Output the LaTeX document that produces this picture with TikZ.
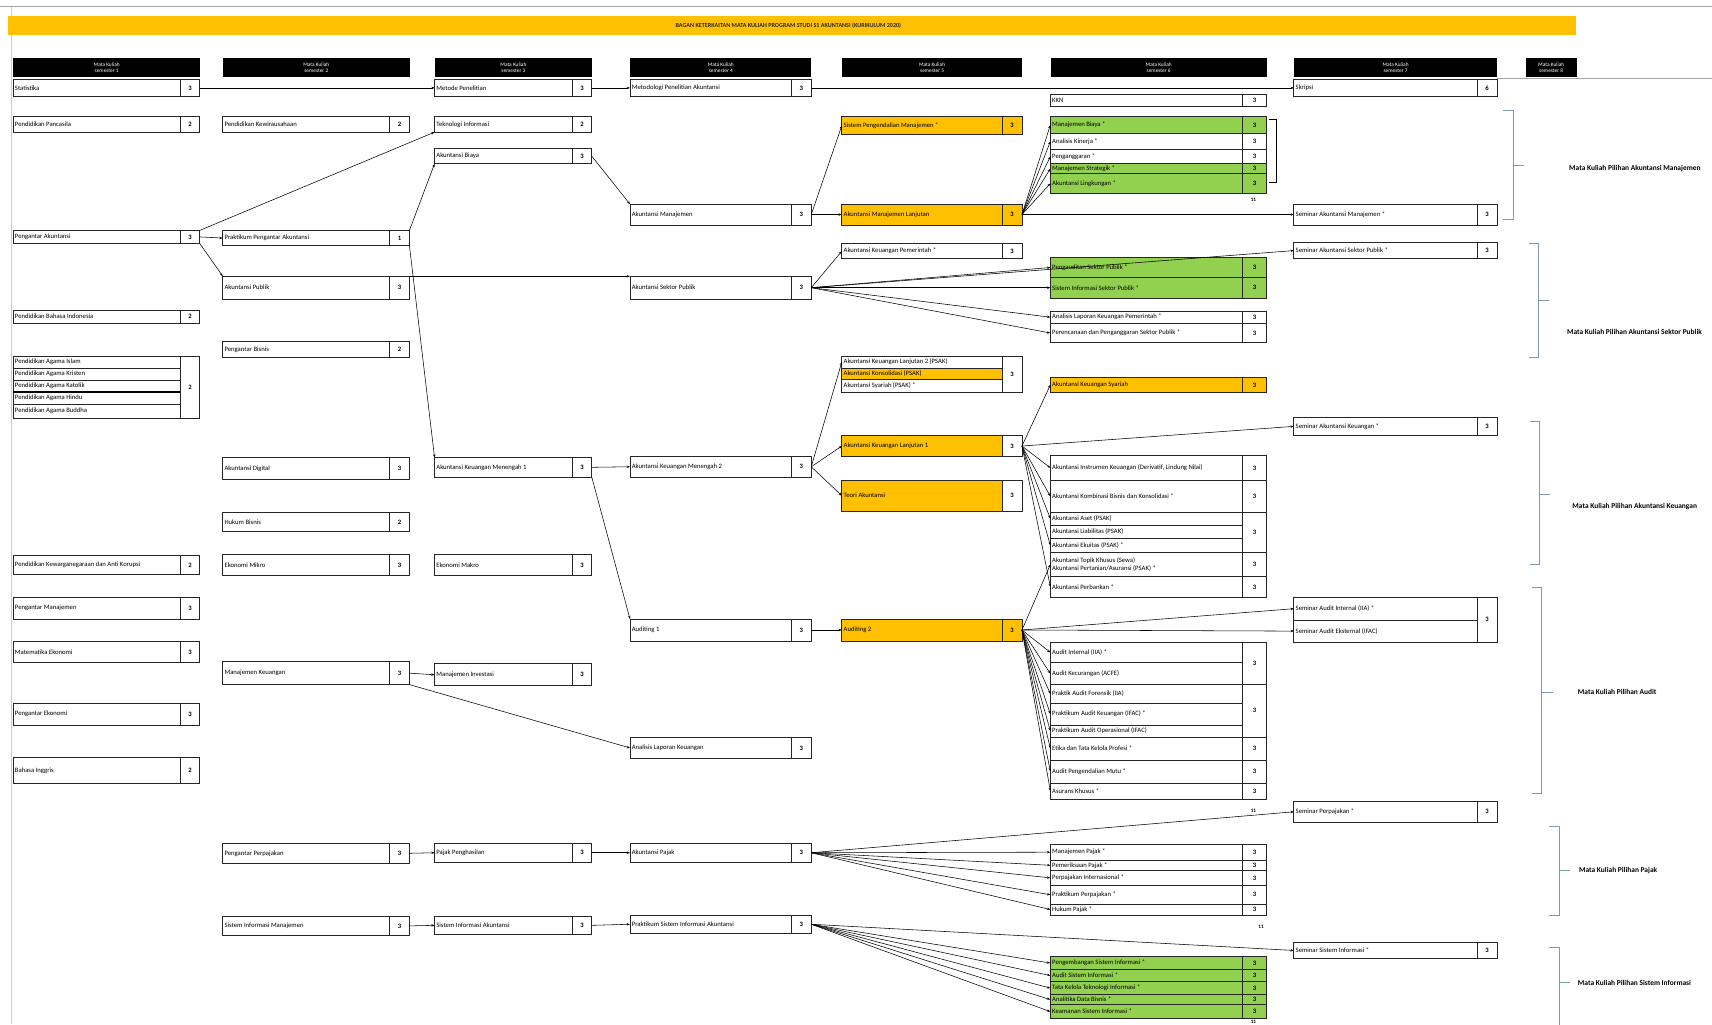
\documentclass[tikz,border=0pt]{standalone}
\usepackage{fontspec}
\setmainfont{Carlito}
\usetikzlibrary{arrows.meta}
\definecolor{mkyel}{HTML}{FFC000}
\definecolor{mkgrn}{HTML}{92D050}
\definecolor{bracecol}{HTML}{8497B0}
\newcommand{\mkfont}{\fontsize{6.1}{6.6}\selectfont}
\def\skw{18}
% a text cell and a credit cell
\newcommand{\mkrow}[7][white]{%
  \node[cellbox, fill=#1, minimum width=#5pt, minimum height=#6pt] (#2) at (#3,#4) {};%
  \node[celltext] at (#2.west) {#7};%
}
\newcommand{\mksks}[7][white]{%
  \node[cellbox, fill=#1, minimum width=#5pt, minimum height=#6pt, font=\mkfont\bfseries] (#2) at (#3,#4) {#7};%
}
% full course box: name, x, y, width, height, title, credits
\newcommand{\course}[8][white]{%
  \pgfmathsetmacro{\mkw}{#5-\skw}%
  \pgfmathsetmacro{\mkx}{#3+#5-\skw}%
  \mkrow[#1]{#2}{#3}{#4}{\mkw}{#6}{#7}%
  \mksks[#1]{#2n}{\mkx}{#4}{\skw}{#6}{#8}%
}

\begin{document}
\begin{tikzpicture}[
    x=1pt, y=-1pt,
    cellbox/.style={draw=black!85, line width=0.65pt, anchor=north west,
                    inner sep=0pt, outer sep=0pt},
    celltext/.style={anchor=west, xshift=1.5pt, inner sep=0pt, font=\mkfont, align=left},
    head/.style={fill=black, text=white, anchor=north west, inner sep=0pt,
                 minimum height=17pt, align=center, font=\fontsize{4.9}{5.4}\selectfont},
    link/.style={-{Stealth[length=3pt,width=2.2pt]}, line width=0.5pt},
    brace/.style={draw=bracecol, line width=0.6pt},
    sidelab/.style={anchor=west, inner sep=0pt, font=\fontsize{6.8}{7.2}\selectfont\bfseries},
    sumlab/.style={inner sep=0pt, font=\fontsize{4.8}{5}\selectfont\bfseries},
]
\useasboundingbox (0,0) rectangle (1568,938);
% sheet lines and title bar
\draw[black!35, line width=0.8pt] (0,6) -- (1568,6);
\draw[black!20, line width=0.6pt] (10,6) -- (10,938);
\draw[black!35, line width=0.5pt] (1371,72) -- (1568,72);
\fill[mkyel] (7,15) rectangle (1443,32);
\node[font=\fontsize{5.6}{6}\selectfont\bfseries, text=black!85] (title) at (722,23.5)
  {BAGAN KETERKAITAN MATA KULIAH PROGRAM STUDI S1 AKUNTANSI (KURIKULUM 2020)};

% semester headers
\foreach \i/\x/\w in {1/12/171, 2/204/171, 3/398/144, 4/577/166,
                      5/771/165, 6/962/198, 7/1185/186, 8/1397/47} {
  \node[head, minimum width=\w pt] (h\i) at (\x,53) {Mata Kuliah\\semester \i};
}

% semester 1
\course{c1a}{12}{73}{171}{15}{Statistika}{3}
\course{c1b}{12}{107}{171}{14}{Pendidikan Pancasila}{2}
\course{c1c}{12}{211}{171}{12}{Pengantar Akuntansi}{3}
\course{c1d}{12}{284}{171}{12}{Pendidikan Bahasa Indonesia}{2}
\foreach \r/\y/\h/\t in {1/326/11/Pendidikan Agama Islam, 2/337/11/Pendidikan Agama Kristen,
    3/348/11/Pendidikan Agama Katolik, 4/359/11/Pendidikan Agama Hindu, 5/370/13/Pendidikan Agama Buddha} {
  \mkrow{c1e\r}{12}{\y}{153}{\h}{\t}
}
\mksks{c1en}{165}{326}{18}{57}{2}
\draw[line width=1.1pt] (c1e3.south west) -- (c1e3.south east);
\course{c1f}{12}{509}{171}{17}{Pendidikan Kewarganegaraan dan Anti Korupsi}{2}
\course{c1g}{12}{547}{171}{20}{Pengantar Manajemen}{3}
\course{c1h}{12}{587}{171}{20}{Matematika Ekonomi}{3}
\course{c1i}{12}{644}{171}{20}{Pengantar Ekonomi}{3}
\course{c1j}{12}{694}{171}{23}{Bahasa Inggris}{2}

% semester 2
\course{c2a}{204}{107}{171}{14}{Pendidikan Kewirausahaan}{2}
\course{c2b}{204}{211}{171}{14}{Praktikum Pengantar Akuntansi}{1}
\course{c2c}{204}{253}{171}{21}{Akuntansi Publik}{3}
\course{c2d}{204}{313}{171}{14}{Pengantar Bisnis}{2}
\course{c2e}{204}{419}{171}{20}{Akuntansi Digital}{3}
\course{c2f}{204}{469}{171}{18}{Hukum Bisnis}{2}
\course{c2g}{204}{508}{171}{19}{Ekonomi Mikro}{3}
\course{c2h}{204}{606}{171}{21}{Manajemen Keuangan}{3}
\course{c2i}{204}{772}{171}{19}{Pengantar Perpajakan}{3}
\course{c2j}{204}{839}{171}{18}{Sistem Informasi Manajemen}{3}

% semester 3
\course{c3a}{398}{73}{144}{15}{Metode Penelitian}{3}
\course{c3b}{398}{107}{144}{14}{Teknologi Informasi}{2}
\course{c3c}{398}{136}{144}{14}{Akuntansi Biaya}{3}
\course{c3d}{398}{419}{144}{18}{Akuntansi Keuangan Menengah 1}{3}
\course{c3e}{398}{508}{144}{19}{Ekonomi Makro}{3}
\course{c3f}{398}{608}{144}{20}{Manajemen Investasi}{3}
\course{c3g}{398}{772}{144}{18}{Pajak Penghasilan}{3}
\course{c3h}{398}{839}{144}{17}{Sistem Informasi Akuntansi}{3}

% semester 4
\course{c4a}{577}{73}{166}{15}{Metodologi Penelitian Akuntansi}{3}
\course{c4b}{577}{187}{166}{19}{Akuntansi Manajemen}{3}
\course{c4c}{577}{253}{166}{21}{Akuntansi Sektor Publik}{3}
\course{c4d}{577}{418}{166}{19}{Akuntansi Keuangan Menengah 2}{3}
\course{c4e}{577}{567}{166}{20}{Auditing 1}{3}
\course{c4f}{577}{675}{166}{20}{Analisis Laporan Keuangan}{3}
\course{c4g}{577}{772}{166}{18}{Akuntansi Pajak}{3}
\course{c4h}{577}{838}{166}{17}{Praktikum Sistem Informasi Akuntansi}{3}

% semester 5
\course[mkyel]{c5a}{771}{107}{165}{16}{Sistem Pengendalian Manajemen *}{3}
\course[mkyel]{c5b}{771}{187}{165}{19}{Akuntansi Manajemen Lanjutan}{3}
\course{c5c}{771}{223}{165}{14}{Akuntansi Keuangan Pemerintah *}{3}
\mkrow{c5d1}{771}{326}{147}{11}{Akuntansi Keuangan Lanjutan 2 (PSAK)}
\mkrow[mkyel]{c5d2}{771}{337}{147}{10}{Akuntansi Konsolidasi (PSAK)}
\mkrow{c5d3}{771}{347}{147}{12}{Akuntansi Syariah (PSAK) *}
\mksks{c5dn}{918}{326}{18}{33}{3}
\mkrow[mkyel]{c5e}{771}{399}{147}{19}{Akuntansi Keuangan Lanjutan 1}
\mksks{c5en}{918}{399}{18}{19}{3}
\mkrow[mkyel]{c5f}{771}{440}{147}{28}{Teori Akuntansi}
\mksks{c5fn}{918}{440}{18}{28}{3}
\course[mkyel]{c5g}{771}{567}{165}{20}{Auditing 2}{3}

% semester 6
\def\skw{22}
\course{c6a}{962}{86}{198}{11}{KKN}{3}
\course[mkgrn]{c6b1}{962}{107}{198}{15}{Manajemen Biaya *}{3}
\course{c6b2}{962}{122}{198}{15}{Analisis Kinerja *}{3}
\course{c6b3}{962}{137}{198}{13}{Penganggaran *}{3}
\course[mkgrn]{c6b4}{962}{150}{198}{9}{Manajemen Strategik *}{3}
\course[mkgrn]{c6b5}{962}{159}{198}{18}{Akuntansi Lingkungan *}{3}
\draw[line width=0.6pt] (1162,109) -- (1169,109) -- (1169,167) -- (1162,167);
\node[sumlab] (s1) at (1148,183) {11};
\course[mkgrn]{c6c1}{962}{236}{198}{18}{Pengauditan Sektor Publik *}{3}
\course[mkgrn]{c6c2}{962}{254}{198}{19}{Sistem Informasi Sektor Publik *}{3}
\course{c6d1}{962}{285}{198}{11}{Analisis Laporan Keuangan Pemerintah *}{3}
\course{c6d2}{962}{296}{198}{18}{Perencanaan dan Penganggaran Sektor Publik *}{3}
\course[mkyel]{c6e}{962}{346}{198}{13}{Akuntansi Keuangan Syariah}{3}
\course{c6f1}{962}{417}{198}{23}{Akuntansi Instrumen Keuangan (Derivatif, Lindung Nilai)}{3}
\course{c6f2}{962}{440}{198}{29}{Akuntansi Kombinasi Bisnis dan Konsolidasi *}{3}
\mkrow{c6f3a}{962}{469}{176}{12}{Akuntansi Aset (PSAK)}
\mkrow{c6f3b}{962}{481}{176}{12}{Akuntansi Liabilitas (PSAK)}
\mkrow{c6f3c}{962}{493}{176}{13}{Akuntansi Ekuitas (PSAK) *}
\mksks{c6f3n}{1138}{469}{22}{37}{3}
\course{c6f4}{962}{506}{198}{22}{Akuntansi Topik Khusus (Sewa)\\Akuntansi Pertanian/Asuransi (PSAK) *}{3}
\course{c6f5}{962}{528}{198}{19}{Akuntansi Perbankan *}{3}
\foreach \r/\y/\h/\t in {1/588/19/Audit Internal (IIA) *, 2/607/20/Audit Kecurangan (ACFE),
    3/627/17/Praktik Audit Forensik (IIA), 4/644/20/Praktikum Audit Keuangan (IFAC) *,
    5/664/11/Praktikum Audit Operasional (IFAC), 6/675/21/Etika dan Tata Kelola Profesi *,
    7/696/21/Audit Pengendalian Mutu *, 8/717/15/Asurans Khusus *} {
  \mkrow{c6g\r}{962}{\y}{176}{\h}{\t}
}
\foreach \r/\y/\h in {1/588/39, 2/627/48, 3/675/21, 4/696/21, 5/717/15} {
  \mksks{c6gn\r}{1138}{\y}{22}{\h}{3}
}
\node[sumlab] (s2) at (1148,743) {11};
\course{c6h1}{962}{773}{198}{15}{Manajemen Pajak *}{3}
\course{c6h2}{962}{788}{198}{9}{Pemeriksaan Pajak *}{3}
\course{c6h3}{962}{797}{198}{14}{Perpajakan Internasional *}{3}
\course{c6h4}{962}{811}{198}{17}{Praktikum Perpajakan *}{3}
\course{c6h5}{962}{828}{198}{10}{Hukum Pajak *}{3}
\node[sumlab] (s3) at (1155,849) {11};
\course[mkgrn]{c6i1}{962}{876}{198}{12}{Pengembangan Sistem Informasi *}{3}
\course[mkgrn]{c6i2}{962}{888}{198}{11}{Audit Sistem Informasi *}{3}
\course[mkgrn]{c6i3}{962}{899}{198}{12}{Tata Kelola Teknologi Informasi *}{3}
\course[mkgrn]{c6i4}{962}{911}{198}{9}{Analitika Data Bisnis *}{3}
\course[mkgrn]{c6i5}{962}{920}{198}{13}{Keamanan Sistem Informasi *}{3}
\node[sumlab] (s4) at (1148,936) {11};

% semester 7
\def\skw{18}
\course{c7a}{1185}{73}{186}{15}{Skripsi}{6}
\course{c7b}{1185}{187}{186}{19}{Seminar Akuntansi Manajemen *}{3}
\course{c7c}{1185}{222}{186}{15}{Seminar Akuntansi Sektor Publik *}{3}
\course{c7d}{1185}{382}{186}{17}{Seminar Akuntansi Keuangan *}{3}
\mkrow{c7e1}{1185}{547}{168}{21}{Seminar Audit Internal (IIA) *}
\mkrow{c7e2}{1185}{568}{168}{20}{Seminar Audit Eksternal (IFAC)}
\mksks{c7en}{1353}{547}{18}{41}{3}
\course{c7f}{1185}{734}{186}{19}{Seminar Perpajakan *}{3}
\course{c7g}{1185}{863}{186}{15}{Seminar Sistem Informasi *}{3}

% prerequisite links
\draw[link] (c1an.east) -- (c3a.west);
\draw[link] (c3an.east) -- (c4a.west);
\draw[link] (c4an.east) -- (c7a.west);
\draw[link] (c1cn.north east) -- (c3b.south west);
\draw[link] (c1cn.east) -- (c2b.west);
\draw[link] (c1cn.south east) -- (c2c.north west);
\draw[link] (c2bn.north east) -- (c3c.south west);
\draw[link] (c2bn.south east) -- (c3d.north west);
\draw[link] (c2cn.north east) -- (c4c.north west);
\draw[link] (c3cn.east) -- (c4b.north west);
\draw[link] (c3dn.east) -- (c4d.west);
\draw[link] (c3dn.south east) -- (c4e.north west);
\draw[link] (c2hn.east) -- (c3f.west);
\draw[link] (c2hn.south east) -- (c4f.west);
\draw[link] (c2in.east) -- (c3g.west);
\draw[link] (c3gn.east) -- (c4g.west);
\draw[link] (c2jn.east) -- (c3h.west);
\draw[link] (c3hn.east) -- (c4h.west);
% fan-out to electives
\foreach \t in {c5a,c5b} \draw[link] (c4bn.east) -- (\t.west);
\foreach \t in {c6b1,c6b2,c6b3,c6b4,c6b5,c7b} \draw[link] (c5bn.east) -- (\t.west);
\foreach \t in {c5c,c6c1,c6c2,c6d1,c6d2,c7c} \draw[link] (c4cn.east) -- (\t.west);
\foreach \t in {c5d1,c5e,c5f} \draw[link] (c4dn.east) -- (\t.west);
\foreach \t in {c6e,c7d,c6f1,c6f2,c6f3a,c6f3c,c6f5} \draw[link] (c5en.east) -- (\t.west);
\draw[link] (c4en.east) -- (c5g.west);
\foreach \t in {c7e1,c7e2,c6f4,c6g1,c6g2,c6g3,c6g4,c6g5,c6g6,c6g7,c6g8}
  \draw[link] (c5gn.east) -- (\t.west);
\foreach \t in {c6h1,c6h2,c6h3,c6h4,c6h5,c7f} \draw[link] (c4gn.east) -- (\t.west);
\foreach \t in {c6i1,c6i2,c6i3,c6i4,c6i5,c7g} \draw[link] (c4hn.east) -- (\t.west);

% elective group brackets
\foreach \x/\ya/\yb/\ym/\lx/\ly/\lab in {
    1386/101/201/151/1437/154/Mata Kuliah Pilihan Akuntansi Manajemen,
    1409/223/327/275/1435/304/Mata Kuliah Pilihan Akuntansi Sektor Publik,
    1410/386/517/453/1440/464/Mata Kuliah Pilihan Akuntansi Keuangan,
    1412/538/727/634/1445/634/Mata Kuliah Pilihan Audit,
    1428/757/838/797/1446/797/Mata Kuliah Pilihan Pajak,
    1428/868/945/900/1445/900/Mata Kuliah Pilihan Sistem Informasi} {
  \draw[brace] (\x-9,\ya) -- (\x,\ya) -- (\x,\yb) -- (\x-9,\yb);
  \draw[brace] (\x,\ym) -- (\x+10,\ym);
  \node[sidelab] at (\lx,\ly) {\lab};
}
\end{tikzpicture}
\end{document}
